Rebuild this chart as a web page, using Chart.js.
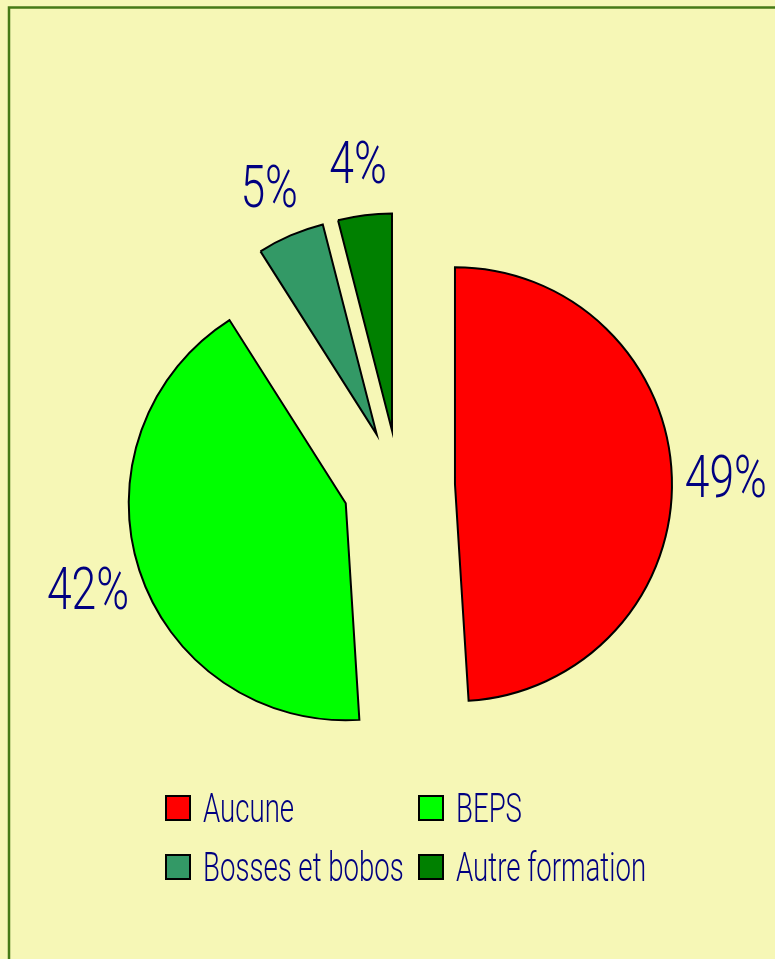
<!DOCTYPE html>
<html lang="fr">
<head>
<meta charset="utf-8">
<title>Formation</title>
<script src="https://cdn.jsdelivr.net/npm/chart.js@4.4.1/dist/chart.umd.min.js"></script>
<style>
  html, body { margin: 0; padding: 0; background: #f6f7b6; }
  canvas { display: block; }
</style>
</head>
<body>
<canvas id="chart" width="775" height="959"></canvas>
<script>
// Données
const labels = ["Aucune", "BEPS", "Bosses et bobos", "Autre formation"];
const values = [49, 42, 5, 4];
const colors = ["#ff0000", "#00ff00", "#339966", "#008000"];

const EXPLODE = 56;   // distance d'éclatement des parts (px)
const RADIUS = 217;
const FONT = "Roboto, 'DejaVu Sans Condensed', sans-serif";
const NAVY = "#000080";

const total = values.reduce((a, b) => a + b, 0);

// texte condensé : on écrase horizontalement
function drawText(ctx, text, x, y, size, squeeze, align) {
    ctx.save();
    ctx.font = "300 " + size + "px " + FONT;
    ctx.translate(x, y);
    ctx.scale(squeeze, 1);
    ctx.textAlign = align;
    ctx.textBaseline = "alphabetic";
    ctx.fillStyle = NAVY;
    ctx.fillText(text, 0, 0);
    ctx.restore();
}

// Fond jaune + cadre vert
const framePlugin = {
    id: "frame",
    beforeDraw(chart) {
        const ctx = chart.ctx;
        ctx.save();
        ctx.fillStyle = "#f6f7b6";
        ctx.fillRect(0, 0, chart.width, chart.height);
        ctx.strokeStyle = "#457a16";
        ctx.lineWidth = 2.5;
        ctx.beginPath();
        ctx.moveTo(9, chart.height + 5);
        ctx.lineTo(9, 7.5);
        ctx.lineTo(chart.width + 5, 7.5);
        ctx.stroke();
        ctx.restore();
    }
};

// Éclatement : chaque part glisse de EXPLODE px le long de sa bissectrice
// (l'option offset de chart.js agrandit aussi le rayon, d'où ce plugin)
const explodePlugin = {
    id: "explode",
    afterDatasetUpdate(chart, args) {
        args.meta.data.forEach(arc => {
            const half = (arc.startAngle + arc.endAngle) / 2;
            arc.x += Math.cos(half) * EXPLODE;
            arc.y += Math.sin(half) * EXPLODE;
        });
    }
};

// Pourcentages à l'extérieur des parts
const percentPlugin = {
    id: "percent",
    afterDatasetsDraw(chart) {
        const ctx = chart.ctx;
        const meta = chart.getDatasetMeta(0);
        meta.data.forEach((arc, i) => {
            const half = (arc.startAngle + arc.endAngle) / 2;
            const d = arc.outerRadius + 54;
            const x = arc.x + Math.cos(half) * d;
            const y = arc.y + Math.sin(half) * d;
            const txt = Math.round(values[i] / total * 100) + "%";
            drawText(ctx, txt, x, y + 0.36 * 60, 60, 0.74, "center");
        });
    }
};

// Légende sur deux colonnes
const legendPlugin = {
    id: "pieLegend",
    afterDraw(chart) {
        const ctx = chart.ctx;
        const ds = chart.data.datasets[0];
        const box = 24, rowH = 59;
        const colX = [166, 419];
        const top = 796;
        chart.data.labels.forEach((lab, i) => {
            const x = colX[i % 2];
            const y = top + Math.floor(i / 2) * rowH;
            ctx.save();
            ctx.fillStyle = ds.backgroundColor[i];
            ctx.fillRect(x, y, box, box);
            ctx.strokeStyle = "#000";
            ctx.lineWidth = 2;
            ctx.strokeRect(x, y, box, box);
            ctx.restore();
            drawText(ctx, lab, x + box + 13, y + box + 2, 40, 0.69, "left");
        });
    }
};

new Chart(document.getElementById("chart"), {
    type: "pie",
    data: {
        labels: labels,
        datasets: [{
            data: values,
            backgroundColor: colors,
            borderColor: "#000",
            borderWidth: 2,
            borderJoinStyle: "miter"
        }]
    },
    options: {
        responsive: false,
        animation: false,
        events: [],
        radius: RADIUS,
        layout: { padding: { left: 23, right: 0, top: 13, bottom: 0 } },
        plugins: {
            legend: { display: false },
            tooltip: { enabled: false }
        }
    },
    plugins: [framePlugin, explodePlugin, percentPlugin, legendPlugin]
});
</script>
</body>
</html>
